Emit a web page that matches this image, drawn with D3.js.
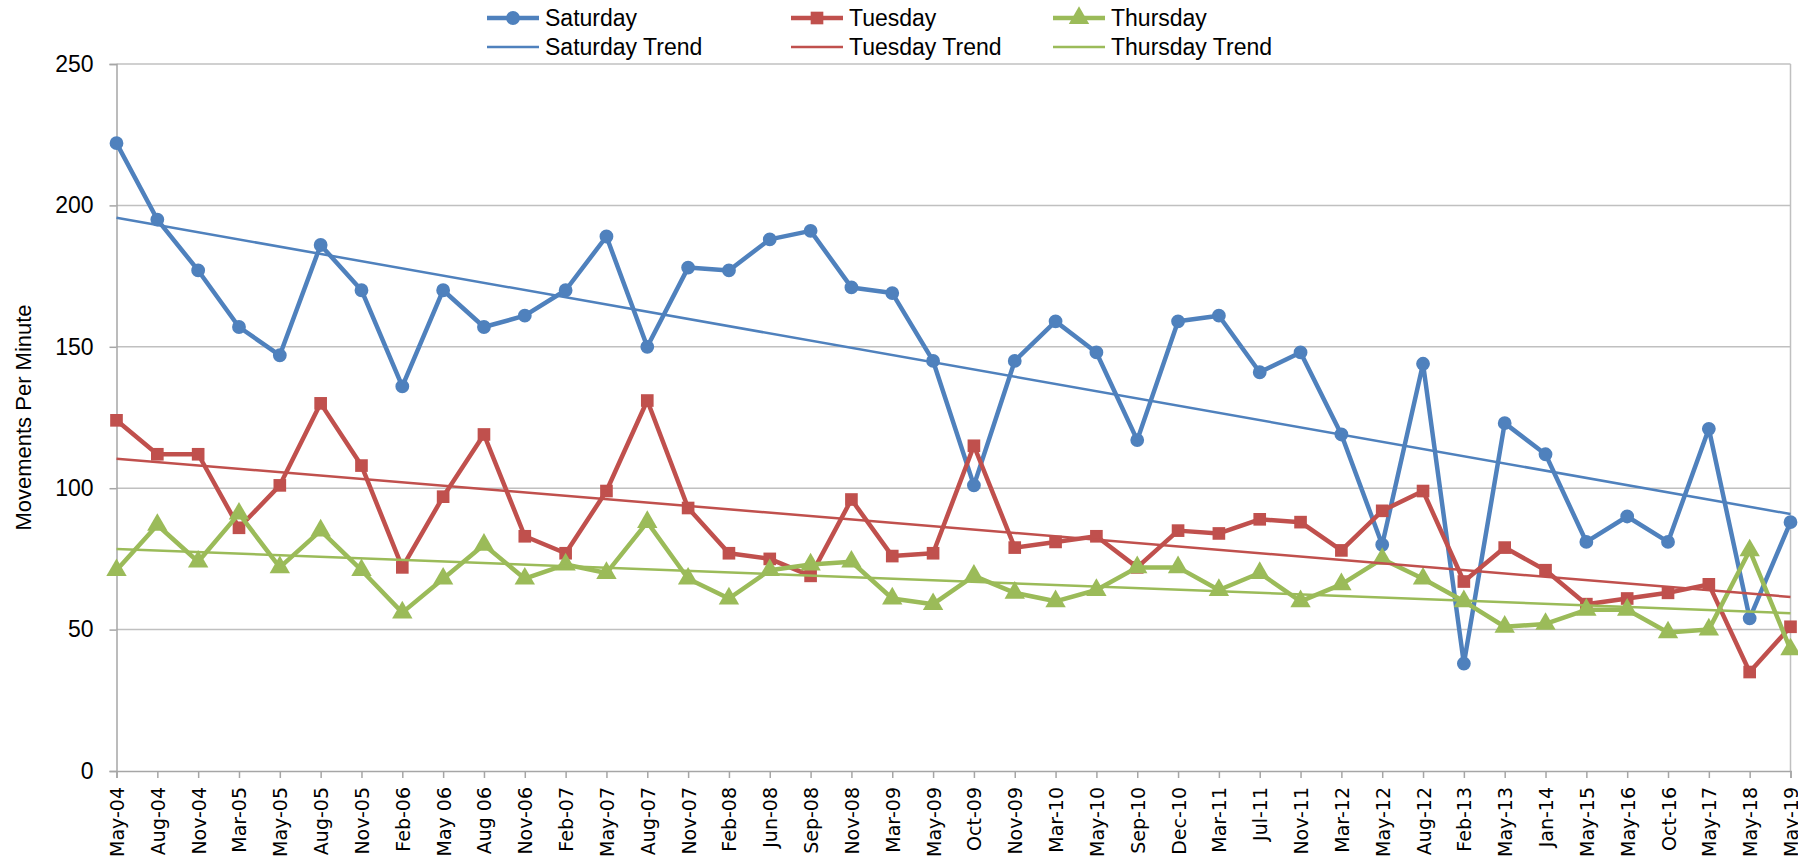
<!DOCTYPE html>
<html>
<head>
<meta charset="utf-8">
<script src="https://cdn.jsdelivr.net/npm/d3@7"></script>
<style>
  html, body { margin: 0; padding: 0; background: #fff; }
  svg { display: block; }
</style>
</head>
<body>
<div id="chart"></div>
<script>
// Survey dates (category axis, labels as printed)
var categories = ['May-04', 'Aug-04', 'Nov-04', 'Mar-05', 'May-05', 'Aug-05', 'Nov-05', 'Feb-06',
  'May 06', 'Aug 06', 'Nov-06', 'Feb-07', 'May-07', 'Aug-07', 'Nov-07', 'Feb-08', 'Jun-08',
  'Sep-08', 'Nov-08', 'Mar-09', 'May-09', 'Oct-09', 'Nov-09', 'Mar-10', 'May-10', 'Sep-10',
  'Dec-10', 'Mar-11', 'Jul-11', 'Nov-11', 'Mar-12', 'May-12', 'Aug-12', 'Feb-13', 'May-13',
  'Jan-14', 'May-15', 'May-16', 'Oct-16', 'May-17', 'May-18', 'May-19'];

var saturday = [222, 195, 177, 157, 147, 186, 170, 136, 170, 157, 161, 170, 189, 150, 178, 177,
  188, 191, 171, 169, 145, 101, 145, 159, 148, 117, 159, 161, 141, 148, 119, 80, 144, 38, 123,
  112, 81, 90, 81, 121, 54, 88];

var tuesday = [124, 112, 112, 86, 101, 130, 108, 72, 97, 119, 83, 77, 99, 131, 93, 77, 75, 69,
  96, 76, 77, 115, 79, 81, 83, 72, 85, 84, 89, 88, 78, 92, 99, 67, 79, 71, 59, 61, 63, 66, 35, 51];

var thursday = [71, 87, 74, 91, 72, 85, 71, 56, 68, 80, 68, 73, 70, 88, 68, 61, 71, 73, 74, 61,
  59, 69, 63, 60, 64, 72, 72, 64, 70, 60, 66, 75, 68, 60, 51, 52, 57, 57, 49, 50, 78, 43];

var yTicks = [0, 50, 100, 150, 200, 250];

var series = [
  { name: 'Saturday', values: saturday, color: '#4F81BD', marker: 'circle' },
  { name: 'Tuesday', values: tuesday, color: '#C0504D', marker: 'square' },
  { name: 'Thursday', values: thursday, color: '#9BBB59', marker: 'triangle' }
];

var W = 1798, H = 863;
var plot = { left: 116.5, right: 1790.5, top: 64, bottom: 771 };
var labelFont = '"Liberation Sans", Arial, sans-serif';
var catFont = '"DejaVu Sans", Verdana, sans-serif';

var svg = d3.select('#chart').append('svg')
  .attr('width', W)
  .attr('height', H);

var x = d3.scalePoint()
  .domain(categories)
  .range([plot.left, plot.right]);

var y = d3.scaleLinear()
  .domain([0, 250])
  .range([plot.bottom, plot.top]);

// Gridlines
svg.append('g')
  .selectAll('line')
  .data(yTicks.filter(function(d) { return d > 0; }))
  .enter().append('line')
  .attr('x1', plot.left).attr('x2', plot.right)
  .attr('y1', function(d) { return y(d); })
  .attr('y2', function(d) { return y(d); })
  .attr('stroke', '#C0C0C0')
  .attr('stroke-width', 1.5);

// Right border of plot area
svg.append('line')
  .attr('x1', plot.right).attr('x2', plot.right)
  .attr('y1', plot.top).attr('y2', plot.bottom)
  .attr('stroke', '#C0C0C0')
  .attr('stroke-width', 1.5);

// Y axis
var yAxis = svg.append('g')
  .attr('transform', 'translate(' + plot.left + ',0)')
  .call(d3.axisLeft(y).tickValues(yTicks).tickSize(7).tickPadding(16));
yAxis.select('.domain').attr('stroke', '#A6A6A6').attr('stroke-width', 1.5);
yAxis.selectAll('.tick line').attr('stroke', '#A6A6A6').attr('stroke-width', 1.5);
yAxis.selectAll('.tick text')
  .attr('fill', '#000')
  .style('font-family', labelFont)
  .style('font-size', '23px');

// X axis
var xAxis = svg.append('g')
  .attr('transform', 'translate(0,' + plot.bottom + ')')
  .call(d3.axisBottom(x).tickSize(7).tickPadding(0));
xAxis.select('.domain').attr('stroke', '#A6A6A6').attr('stroke-width', 1.5);
xAxis.selectAll('.tick line').attr('stroke', '#A6A6A6').attr('stroke-width', 1.5);
xAxis.selectAll('.tick text')
  .attr('fill', '#000')
  .attr('text-anchor', 'end')
  .attr('dy', null)
  .attr('y', 0)
  .attr('transform', 'translate(7,16) rotate(-90)')
  .style('font-family', catFont)
  .style('font-size', '19px');

// Y axis title
svg.append('text')
  .attr('transform', 'translate(31,' + ((plot.top + plot.bottom) / 2) + ') rotate(-90)')
  .attr('text-anchor', 'middle')
  .style('font-family', labelFont)
  .style('font-size', '22px')
  .text('Movements Per Minute');

var symbolFor = {
  circle: d3.symbol().type(d3.symbolCircle).size(150),
  square: d3.symbol().type(d3.symbolSquare).size(160),
  triangle: d3.symbol().type(d3.symbolTriangle).size(180)
};

var line = d3.line()
  .x(function(d, i) { return x(categories[i]); })
  .y(function(d) { return y(d); });

// Series lines + markers
series.forEach(function(s) {
  var g = svg.append('g');
  g.append('path')
    .datum(s.values)
    .attr('d', line)
    .attr('fill', 'none')
    .attr('stroke', s.color)
    .attr('stroke-width', 4.5)
    .attr('stroke-linejoin', 'round');
  g.selectAll('path.mk')
    .data(s.values)
    .enter().append('path')
    .attr('class', 'mk')
    .attr('d', symbolFor[s.marker])
    .attr('transform', function(d, i) { return 'translate(' + x(categories[i]) + ',' + y(d) + ')'; })
    .attr('fill', s.color);
});

// Linear trendlines (least squares over category index)
function fit(values) {
  var n = values.length;
  var mx = d3.mean(values, function(d, i) { return i; });
  var my = d3.mean(values);
  var num = 0, den = 0;
  values.forEach(function(v, i) { num += (i - mx) * (v - my); den += (i - mx) * (i - mx); });
  var b = num / den;
  return [my - b * mx, my + b * (n - 1 - mx)];
}

series.forEach(function(s) {
  var ends = fit(s.values);
  svg.append('line')
    .attr('x1', x(categories[0]))
    .attr('x2', x(categories[categories.length - 1]))
    .attr('y1', y(ends[0]))
    .attr('y2', y(ends[1]))
    .attr('stroke', s.color)
    .attr('stroke-width', 2.5);
});

// Legend
var legendCols = [487, 791, 1053];
var legendRows = [18, 47];
series.forEach(function(s, i) {
  var lx = legendCols[i];
  var top = svg.append('g');
  top.append('line')
    .attr('x1', lx).attr('x2', lx + 52)
    .attr('y1', legendRows[0]).attr('y2', legendRows[0])
    .attr('stroke', s.color).attr('stroke-width', 4.5);
  top.append('path')
    .attr('d', symbolFor[s.marker])
    .attr('transform', 'translate(' + (lx + 26) + ',' + legendRows[0] + ')')
    .attr('fill', s.color);
  top.append('text')
    .attr('x', lx + 58).attr('y', legendRows[0])
    .attr('dy', '0.35em')
    .style('font-family', labelFont)
    .style('font-size', '23px')
    .text(s.name);

  var bot = svg.append('g');
  bot.append('line')
    .attr('x1', lx).attr('x2', lx + 52)
    .attr('y1', legendRows[1]).attr('y2', legendRows[1])
    .attr('stroke', s.color).attr('stroke-width', 2.5);
  bot.append('text')
    .attr('x', lx + 58).attr('y', legendRows[1])
    .attr('dy', '0.35em')
    .style('font-family', labelFont)
    .style('font-size', '23px')
    .text(s.name + ' Trend');
});
</script>
</body>
</html>
